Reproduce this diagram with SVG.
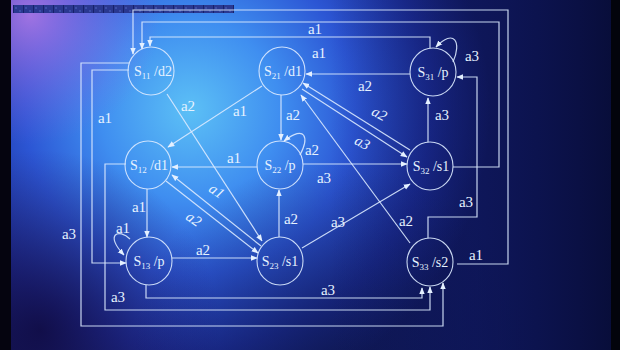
<svg xmlns="http://www.w3.org/2000/svg" width="620" height="350" viewBox="0 0 620 350">
<defs>
<radialGradient id="glow" cx="190" cy="110" r="300" gradientUnits="userSpaceOnUse">
<stop offset="0" stop-color="#5cc0f6"/>
<stop offset="0.3" stop-color="#3f8ef0"/>
<stop offset="0.55" stop-color="#2c56d4"/>
<stop offset="0.8" stop-color="#1c2e98"/>
<stop offset="1" stop-color="#121c62"/>
</radialGradient>
<linearGradient id="rightDark" x1="330" y1="0" x2="620" y2="0" gradientUnits="userSpaceOnUse">
<stop offset="0" stop-color="#0a1050" stop-opacity="0"/>
<stop offset="0.5" stop-color="#0a1050" stop-opacity="0.45"/>
<stop offset="1" stop-color="#060a30" stop-opacity="0.85"/>
</linearGradient>
<radialGradient id="purpleTL" cx="30" cy="15" r="130" gradientUnits="userSpaceOnUse">
<stop offset="0" stop-color="#b57ae8" stop-opacity="0.85"/>
<stop offset="1" stop-color="#8060e0" stop-opacity="0"/>
</radialGradient>
<radialGradient id="darkBL" cx="40" cy="330" r="180" gradientUnits="userSpaceOnUse">
<stop offset="0" stop-color="#100a40" stop-opacity="0.85"/>
<stop offset="1" stop-color="#201860" stop-opacity="0"/>
</radialGradient>
<radialGradient id="darkBottom" cx="330" cy="360" r="200" gradientUnits="userSpaceOnUse">
<stop offset="0" stop-color="#0c1448" stop-opacity="0.6"/>
<stop offset="1" stop-color="#0c1448" stop-opacity="0"/>
</radialGradient>
<pattern id="checker" x="13" y="5" width="10" height="8" patternUnits="userSpaceOnUse">
<rect width="10" height="8" fill="#2a3890"/>
<rect x="0" y="0" width="1" height="8" fill="#18226a"/>
<rect x="2" y="2" width="2" height="2" fill="#3c4ea8"/>
<rect x="6" y="5" width="2" height="2" fill="#3c4ea8"/>
</pattern>
<marker id="arr" viewBox="0 0 10 10" refX="9" refY="5" markerWidth="7" markerHeight="7" orient="auto" markerUnits="userSpaceOnUse">
<path d="M0,1 L10,5 L0,9 z" fill="#e4f0ff"/>
</marker>
<style>
.edge{fill:none;stroke:#dceaff;stroke-width:1.2;stroke-opacity:0.9}
.arrow{marker-end:url(#arr)}
.node{fill:none;stroke:#dceaff;stroke-width:1.1;stroke-opacity:0.9}
.lbl{font-family:"Liberation Serif","Times New Roman",serif;font-size:15px;fill:#e6f2ff;text-anchor:middle}
.ital{font-style:italic}
.nt{font-family:"Liberation Serif","Times New Roman",serif;font-size:14px;fill:#e6f2ff;text-anchor:middle}
.sub{font-size:9px}
</style>
</defs>

<g id="background">
<rect width="620" height="350" fill="url(#glow)"/>
<rect width="620" height="350" fill="url(#purpleTL)"/>
<rect width="620" height="350" fill="url(#darkBL)"/>
<rect width="620" height="350" fill="url(#darkBottom)"/>
<rect width="620" height="350" fill="url(#rightDark)"/>
<rect x="0" y="0" width="11" height="350" fill="#05040f"/>
<rect x="611" y="0" width="9" height="350" fill="#03040c"/>
<rect x="13" y="5" width="221" height="8" fill="url(#checker)"/>
</g>

<g id="connectors">
<path class="edge arrow" d="M457,264 H508 V10 H133 V54"/>
<path class="edge arrow" d="M453,167 H499 V22 H142 V49"/>
<path class="edge arrow" d="M430,48 V37 H150 V46"/>
<path class="edge arrow" d="M129,70 H92 V263 H126"/>
<path class="edge arrow" d="M129,63 H81 V326 H443 V283"/>
<path class="edge arrow" d="M126,164 H105 V310 H430 V287"/>
<path class="edge arrow" d="M146,285 V298 H422 V288"/>
<path class="edge arrow" d="M428,238 V217 H477 V77 H457"/>
<path class="edge arrow" d="M410,74 H306"/>
<path class="edge arrow" d="M428,142 V98"/>
<path class="edge arrow" d="M410,150 L303,83"/>
<path class="edge arrow" d="M302,89 L407,157"/>
<path class="edge arrow" d="M410,243 L301,95"/>
<path class="edge arrow" d="M281,95 V140"/>
<path class="edge arrow" d="M300,155 C309,138 306,124 284,141"/>
<path class="edge arrow" d="M303,164 H407"/>
<path class="edge arrow" d="M257,167 H172"/>
<path class="edge arrow" d="M262,86 L168,147"/>
<path class="edge arrow" d="M167,94 L262,241"/>
<path class="edge arrow" d="M261,246 L172,175"/>
<path class="edge arrow" d="M166,181 L258,253"/>
<path class="edge arrow" d="M147,189 V237"/>
<path class="edge arrow" d="M130,239 C119,228 104,234 124,255"/>
<path class="edge arrow" d="M172,258 H257"/>
<path class="edge arrow" d="M279,237 V190"/>
<path class="edge arrow" d="M302,248 L410,184"/>
<path class="edge arrow" d="M453,62 C462,42 454,28 436,47"/>
</g>

<g id="edge-labels">
<text class="lbl" x="315" y="34">a1</text>
<text class="lbl" x="319" y="58">a1</text>
<text class="lbl" x="105" y="123">a1</text>
<text class="lbl" x="69" y="239">a3</text>
<text class="lbl" x="118" y="302">a3</text>
<text class="lbl" x="188" y="111">a2</text>
<text class="lbl" x="240" y="116">a1</text>
<text class="lbl" x="293" y="120">a2</text>
<text class="lbl" x="312" y="155">a2</text>
<text class="lbl" x="234" y="163">a1</text>
<text class="lbl" x="324" y="183">a3</text>
<text class="lbl" x="365" y="91">a2</text>
<text class="lbl ital" transform="translate(377,118) rotate(28)">a2</text>
<text class="lbl ital" transform="translate(360,147) rotate(28)">a3</text>
<text class="lbl" x="442" y="120">a3</text>
<text class="lbl" x="472" y="61">a3</text>
<text class="lbl" x="466" y="207">a3</text>
<text class="lbl" x="476" y="260">a1</text>
<text class="lbl" x="406" y="226">a2</text>
<text class="lbl" x="338" y="227">a3</text>
<text class="lbl" x="291" y="224">a2</text>
<text class="lbl" x="328" y="295">a3</text>
<text class="lbl" x="203" y="255">a2</text>
<text class="lbl" x="139" y="212">a1</text>
<text class="lbl" x="123" y="233">a1</text>
<text class="lbl ital" transform="translate(214,195) rotate(35)">a1</text>
<text class="lbl ital" transform="translate(191,223) rotate(35)">a2</text>
</g>

<g id="S11"><ellipse class="node" cx="151" cy="71" rx="23" ry="24"/><text class="nt" x="153" y="76">S<tspan class="sub" dy="3">11</tspan><tspan dy="-3"> /d2</tspan></text></g>
<g id="S21"><ellipse class="node" cx="282" cy="71" rx="23" ry="24"/><text class="nt" x="283" y="76">S<tspan class="sub" dy="3">21</tspan><tspan dy="-3"> /d1</tspan></text></g>
<g id="S31"><ellipse class="node" cx="433" cy="72" rx="23" ry="24"/><text class="nt" x="433" y="77">S<tspan class="sub" dy="3">31</tspan><tspan dy="-3"> /p</tspan></text></g>
<g id="S12"><ellipse class="node" cx="148" cy="165" rx="23" ry="24"/><text class="nt" x="149" y="170">S<tspan class="sub" dy="3">12</tspan><tspan dy="-3"> /d1</tspan></text></g>
<g id="S22"><ellipse class="node" cx="280" cy="165" rx="23" ry="24"/><text class="nt" x="280" y="170">S<tspan class="sub" dy="3">22</tspan><tspan dy="-3"> /p</tspan></text></g>
<g id="S32"><ellipse class="node" cx="430" cy="166" rx="23" ry="24"/><text class="nt" x="431" y="171">S<tspan class="sub" dy="3">32</tspan><tspan dy="-3"> /s1</tspan></text></g>
<g id="S13"><ellipse class="node" cx="149" cy="261" rx="23" ry="24"/><text class="nt" x="149" y="266">S<tspan class="sub" dy="3">13</tspan><tspan dy="-3"> /p</tspan></text></g>
<g id="S23"><ellipse class="node" cx="280" cy="261" rx="23" ry="24"/><text class="nt" x="280" y="266">S<tspan class="sub" dy="3">23</tspan><tspan dy="-3"> /s1</tspan></text></g>
<g id="S33"><ellipse class="node" cx="430" cy="262" rx="23" ry="24"/><text class="nt" x="430" y="267">S<tspan class="sub" dy="3">33</tspan><tspan dy="-3"> /s2</tspan></text></g>
</svg>
